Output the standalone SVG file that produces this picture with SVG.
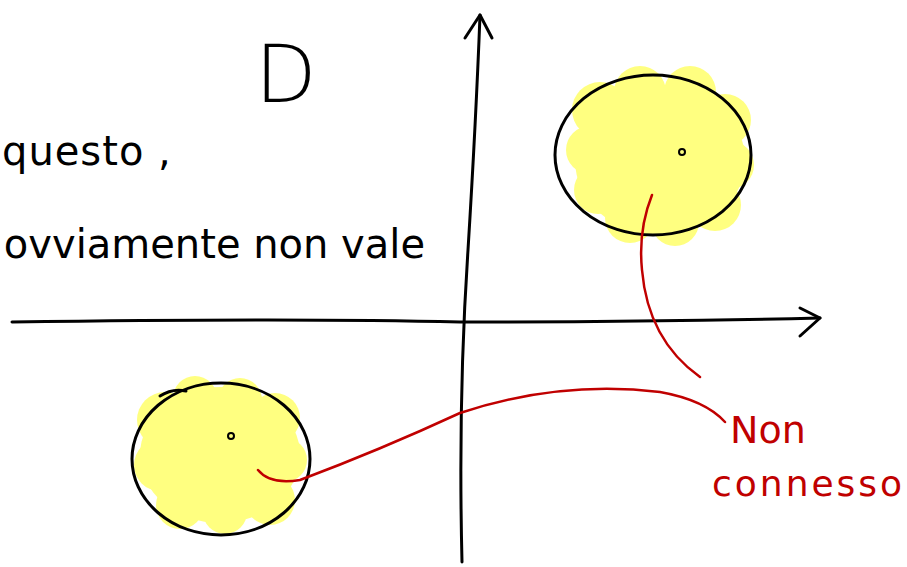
<svg xmlns="http://www.w3.org/2000/svg" width="907" height="567" viewBox="0 0 907 567">
<style>
.ink{fill:none;stroke:#000;stroke-width:3;stroke-linecap:round;stroke-linejoin:round}
.red{fill:none;stroke:#c00000;stroke-width:2.5;stroke-linecap:round;stroke-linejoin:round}
.blob{fill:#ffff80}
.bt{font-family:"DejaVu Sans","Liberation Sans",sans-serif;fill:#000}
.rt{font-family:"DejaVu Sans","Liberation Sans",sans-serif;fill:#c00000}
</style>
<rect width="907" height="567" fill="#fff"/>
<g id="blob-top-right">
<g class="blob">
<ellipse cx="660" cy="160" rx="85" ry="75"/>
<circle cx="600" cy="110" r="28"/><circle cx="640" cy="92" r="26"/><circle cx="690" cy="92" r="26"/>
<circle cx="725" cy="120" r="26"/><circle cx="730" cy="165" r="24"/><circle cx="715" cy="205" r="26"/>
<circle cx="675" cy="222" r="24"/><circle cx="630" cy="218" r="25"/><circle cx="598" cy="190" r="24"/><circle cx="590" cy="150" r="24"/>
</g>
<ellipse class="ink" cx="653" cy="155" rx="98" ry="80"/>
<circle cx="682" cy="152" r="3" fill="none" stroke="#000" stroke-width="2"/>
</g>
<g id="blob-bottom-left">
<g class="blob">
<ellipse cx="220" cy="455" rx="80" ry="68"/>
<circle cx="195" cy="398" r="22"/><circle cx="165" cy="420" r="28"/><circle cx="160" cy="465" r="26"/>
<circle cx="180" cy="505" r="24"/><circle cx="225" cy="512" r="22"/><circle cx="270" cy="500" r="25"/>
<circle cx="285" cy="460" r="22"/><circle cx="275" cy="418" r="25"/><circle cx="240" cy="400" r="22"/>
</g>
<ellipse class="ink" cx="221" cy="459" rx="89" ry="76"/>
<path class="ink" d="M160 396 Q172 388 186 391"/>
<circle cx="231" cy="436" r="3" fill="none" stroke="#000" stroke-width="2"/>
</g>
<g id="axes">
<path class="ink" d="M462 562 Q458 400 468 250 Q476 120 480 15"/>
<path class="ink" d="M465 38 L480 15 L492 38"/>
<path class="ink" d="M12 322 Q300 318 460 322 Q650 322 820 318"/>
<path class="ink" d="M800 308 L820 318 L800 336"/>
</g>
<g id="connectors">
<path class="red" d="M652 195 Q638 230 642 270 Q648 340 700 377"/>
<path class="red" d="M258 470 Q270 485 300 480 Q380 450 460 413 Q560 380 660 392 Q705 400 725 422"/>
</g>
<g id="labels">
<text class="bt" x="255" y="102" font-size="80" font-weight="200">D</text>
<text class="bt" x="2" y="165" font-size="40" letter-spacing="1">questo ,</text>
<text class="bt" x="425" y="258" font-size="40" text-anchor="end">ovviamente non vale</text>
<text class="rt" x="730" y="443" font-size="38">Non</text>
<text class="rt" x="712" y="496" font-size="36" letter-spacing="3">connesso</text>
</g>
</svg>
